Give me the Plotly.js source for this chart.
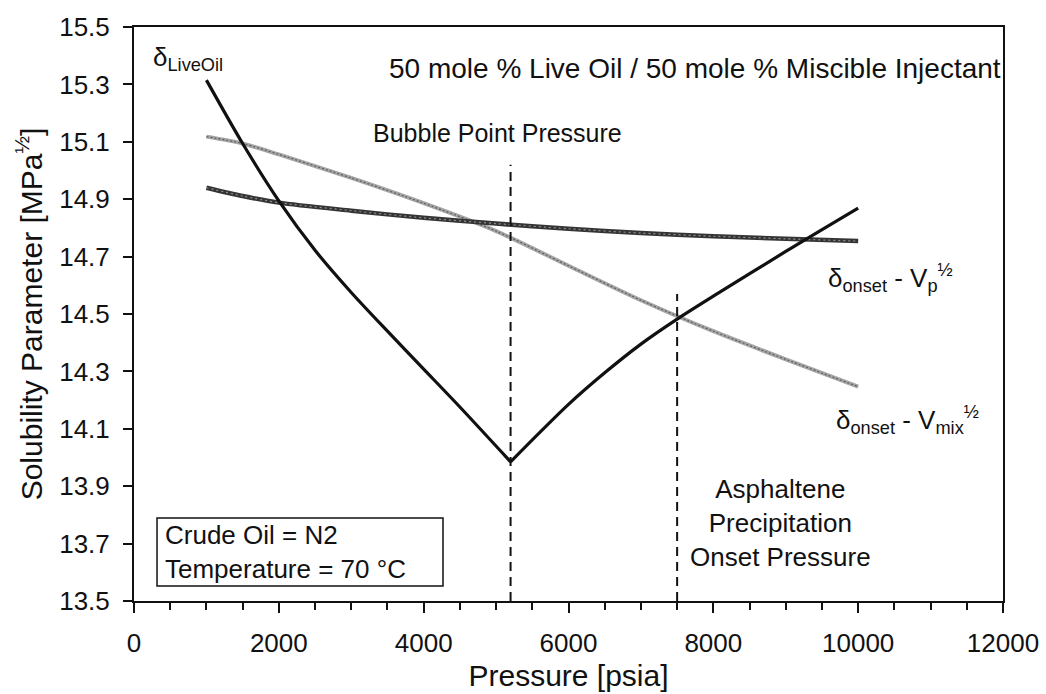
<!DOCTYPE html>
<html>
<head>
<meta charset="utf-8">
<script src="https://cdn.plot.ly/plotly-3.0.1.min.js"></script>
<style>
  html, body { margin: 0; padding: 0; background: #ffffff; }
  #chart { width: 1046px; height: 694px; }
</style>
</head>
<body>
<div id="chart"></div>
<script>
// Solubility parameter of the live oil vs. pressure: falls to the bubble point, then rises
const pressureLiveBelow = [1000, 1500, 2000, 2500, 3000, 3500, 4000, 4500, 5200];
const deltaLiveBelow = [15.315, 15.094, 14.894, 14.722, 14.575, 14.440, 14.308, 14.176, 13.985];
const pressureLiveAbove = [5200, 6000, 6500, 7000, 7500, 8000, 9000, 10000];
const deltaLiveAbove = [13.985, 14.185, 14.295, 14.395, 14.482, 14.562, 14.718, 14.869];

// Onset solubility parameter from the two volume definitions
const pressureOnset = [1000, 1500, 2000, 3000, 4000, 5000, 6000, 7000, 8000, 9000, 10000];
const deltaOnsetVp = [14.940, 14.911, 14.888, 14.860, 14.835, 14.815, 14.797, 14.782, 14.771, 14.762, 14.754];
const deltaOnsetVmix = [15.118, 15.094, 15.056, 14.974, 14.886, 14.789, 14.668, 14.548, 14.440, 14.342, 14.247];

// Marker pressures (vertical dashed lines) and their upper ends
const bubblePointPressure = 5200;
const bubblePointTop = 15.02;
const onsetPressure = 7500;
const onsetTop = 14.57;

const xTickVals = [0, 2000, 4000, 6000, 8000, 10000, 12000];
const xTickText = ['0', '2000', '4000', '6000', '8000', '10000', '12000'];
const yTickVals = [13.5, 13.7, 13.9, 14.1, 14.3, 14.5, 14.7, 14.9, 15.1, 15.3, 15.5];
const yTickText = ['13.5', '13.7', '13.9', '14.1', '14.3', '14.5', '14.7', '14.9', '15.1', '15.3', '15.5'];

const yBottom = 13.5;
const FONT = 'Liberation Sans, Arial, sans-serif';
const INK = '#111111';

const smooth = { shape: 'spline', smoothing: 0.8 };

const traces = [
  // rope-like texture: thick base plus a fine dotted overlay
  { x: pressureOnset, y: deltaOnsetVmix, mode: 'lines', line: Object.assign({ color: '#a6a6a6', width: 4 }, smooth), hoverinfo: 'skip' },
  { x: pressureOnset, y: deltaOnsetVmix, mode: 'lines', line: Object.assign({ color: '#5e5e5e', width: 1.2, dash: '2px,2px' }, smooth), hoverinfo: 'skip' },
  { x: pressureOnset, y: deltaOnsetVp, mode: 'lines', line: Object.assign({ color: '#353535', width: 4.5 }, smooth), hoverinfo: 'skip' },
  { x: pressureOnset, y: deltaOnsetVp, mode: 'lines', line: Object.assign({ color: '#8f8f8f', width: 1.2, dash: '2px,3px' }, smooth), hoverinfo: 'skip' },
  { x: pressureLiveBelow, y: deltaLiveBelow, mode: 'lines', line: Object.assign({ color: INK, width: 3.2 }, smooth), hoverinfo: 'skip' },
  { x: pressureLiveAbove, y: deltaLiveAbove, mode: 'lines', line: Object.assign({ color: INK, width: 3.2 }, smooth), hoverinfo: 'skip' },
  { x: [bubblePointPressure, bubblePointPressure], y: [yBottom, bubblePointTop], mode: 'lines', line: { color: INK, width: 2, dash: '9px,6px' }, hoverinfo: 'skip' },
  { x: [onsetPressure, onsetPressure], y: [yBottom, onsetTop], mode: 'lines', line: { color: INK, width: 2, dash: '9px,6px' }, hoverinfo: 'skip' }
];

const txt = { family: FONT, size: 26, color: INK };

const layout = {
  width: 1046,
  height: 694,
  margin: { l: 134, r: 43, t: 27, b: 93 },
  paper_bgcolor: '#ffffff',
  plot_bgcolor: '#ffffff',
  showlegend: false,
  font: { family: FONT, color: INK },
  xaxis: {
    range: [0, 12000],
    tickvals: xTickVals,
    ticktext: xTickText,
    ticks: 'outside', ticklen: 10, tickwidth: 2, tickcolor: INK,
    minor: { dtick: 500, ticks: 'outside', ticklen: 7, tickwidth: 2, tickcolor: INK, showgrid: false },
    showgrid: false, zeroline: false,
    showline: true, linecolor: INK, linewidth: 2, mirror: true,
    tickfont: { family: FONT, size: 26, color: INK },
    ticklabelstandoff: 8,
    title: { text: 'Pressure [psia]', font: { family: FONT, size: 30, color: INK }, standoff: 8 },
    fixedrange: true
  },
  yaxis: {
    range: [13.5, 15.5],
    tickvals: yTickVals,
    ticktext: yTickText,
    ticks: 'outside', ticklen: 9, tickwidth: 2, tickcolor: INK,
    showgrid: false, zeroline: false,
    showline: true, linecolor: INK, linewidth: 2, mirror: true,
    tickfont: { family: FONT, size: 26, color: INK },
    ticklabelstandoff: 8,
    title: { text: 'Solubility Parameter [MPa<sup>½</sup>]', font: { family: FONT, size: 30, color: INK }, standoff: 8 },
    fixedrange: true
  },
  shapes: [
    { type: 'rect', xref: 'x', yref: 'y', x0: 318, x1: 4267, y0: 13.552, y1: 13.789, line: { color: INK, width: 1.5 }, fillcolor: 'rgba(0,0,0,0)' }
  ],
  annotations: [
    { xref: 'x', yref: 'y', x: 12000, y: 15.357, xanchor: 'right', yanchor: 'middle', showarrow: false,
      text: '50 mole % Live Oil / 50 mole % Miscible Injectant', font: { family: FONT, size: 28, color: INK } },
    { xref: 'x', yref: 'y', x: 5013, y: 15.131, xanchor: 'center', yanchor: 'middle', showarrow: false,
      text: 'Bubble Point Pressure', font: { family: FONT, size: 25, color: INK } },
    { xref: 'x', yref: 'y', x: 230, y: 15.39, xanchor: 'left', yanchor: 'middle', showarrow: false,
      text: 'δ<sub>LiveOil</sub>', font: txt },
    { xref: 'x', yref: 'y', x: 9560, y: 14.625, xanchor: 'left', yanchor: 'middle', showarrow: false,
      text: 'δ<sub>onset</sub> - V<sub>p</sub><sup>½</sup>', font: txt },
    { xref: 'x', yref: 'y', x: 9660, y: 14.13, xanchor: 'left', yanchor: 'middle', showarrow: false,
      text: 'δ<sub>onset</sub> - V<sub>mix</sub><sup>½</sup>', font: txt },
    { xref: 'x', yref: 'y', x: 8921, y: 13.772, xanchor: 'center', yanchor: 'middle', showarrow: false,
      text: 'Asphaltene<br>Precipitation<br>Onset Pressure', align: 'center', font: txt },
    { xref: 'x', yref: 'y', x: 400, y: 13.67, xanchor: 'left', yanchor: 'middle', showarrow: false,
      text: 'Crude Oil = N2<br>Temperature = 70 °C', align: 'left', font: txt }
  ]
};

Plotly.newPlot('chart', traces, layout, { staticPlot: true, displayModeBar: false });
</script>
</body>
</html>
